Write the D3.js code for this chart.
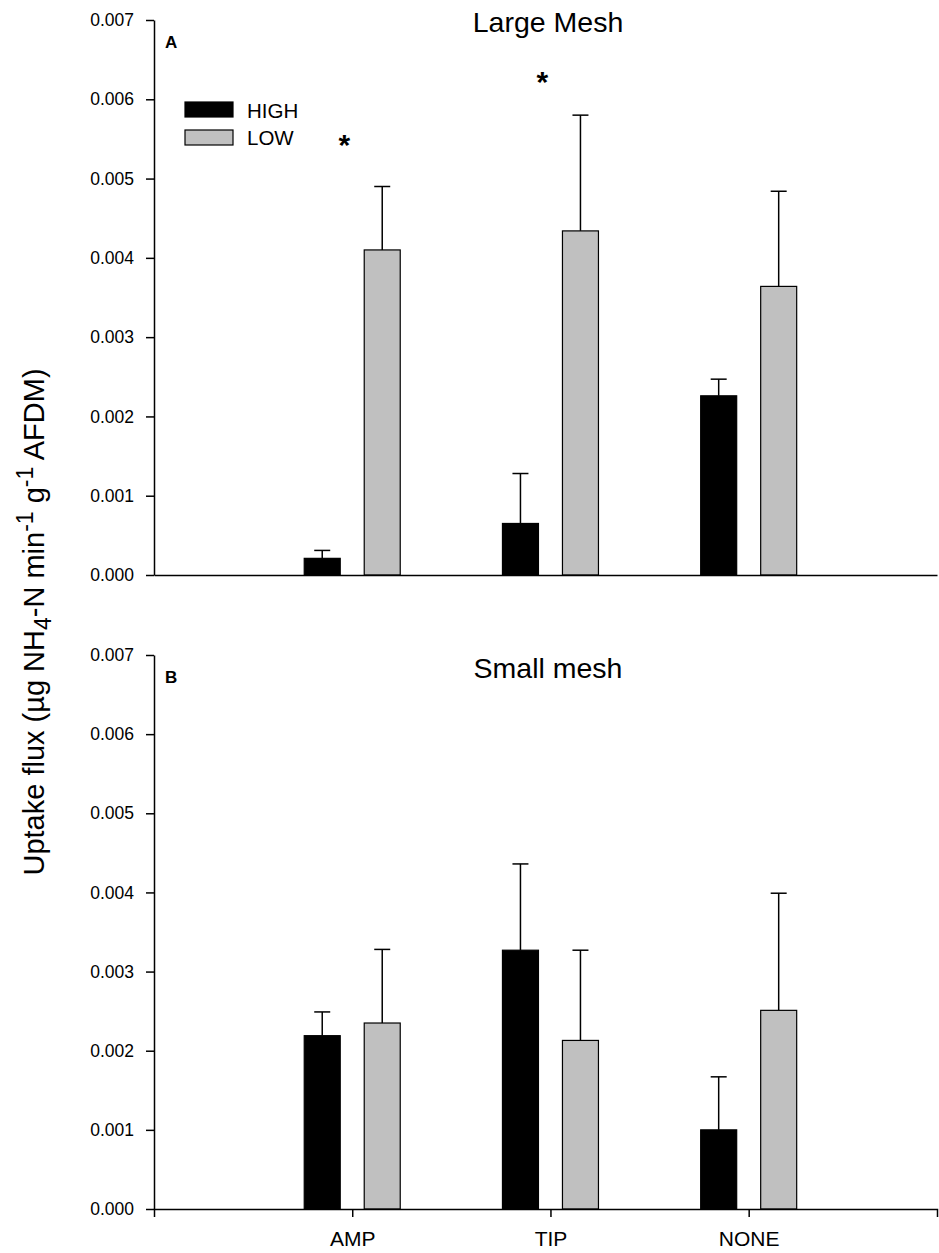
<!DOCTYPE html>
<html>
<head>
<meta charset="utf-8">
<script src="https://cdn.jsdelivr.net/npm/d3@7"></script>
<style>
  body { margin: 0; background: #fff; }
  svg { font-family: "Liberation Sans", Arial, sans-serif; }
  .axis path, .axis line { stroke: #000; stroke-width: 1.5; }
  .axis text { font-size: 17.5px; fill: #000; font-family: "Liberation Sans", Arial, sans-serif; }
  .x-axis text { font-size: 21px; }
</style>
</head>
<body>
<div id="chart-area"></div>
<script>
// Data
let categories = ["AMP", "TIP", "NONE"];
let groups = ["HIGH", "LOW"];
let yTicks = [0, 0.001, 0.002, 0.003, 0.004, 0.005, 0.006, 0.007];

// Large mesh (panel A): means and standard errors
let largeHigh = [0.00021, 0.00065, 0.00226];
let largeHighSE = [0.00010, 0.00063, 0.00021];
let largeLow = [0.00410, 0.00434, 0.00364];
let largeLowSE = [0.00080, 0.00146, 0.00120];

// Small mesh (panel B)
let smallHigh = [0.00219, 0.00327, 0.00100];
let smallHighSE = [0.00030, 0.00109, 0.00067];
let smallLow = [0.00235, 0.00213, 0.00251];
let smallLowSE = [0.00093, 0.00114, 0.00148];

// Significance stars in panel A
let starCats = ["AMP", "TIP"];
let starY = [0.0055, 0.0063];

let fillColors = {HIGH: "#000000", LOW: "#c0c0c0"};

let svg = d3.select("#chart-area").append("svg")
    .attr("width", 939)
    .attr("height", 1253);

// Shared x scale (categories at positions 1..3)
let x = d3.scaleLinear()
    .domain([0, 3.95])
    .range([154, 937]);

let barWidth = 36,
    dodge = 30,
    capHalf = 8;

function makeRows(high, highSE, low, lowSE) {
    let rows = [];
    categories.forEach(function (c, i) {
        rows.push({cat: c, idx: i + 1, group: "HIGH", value: high[i], se: highSE[i]});
        rows.push({cat: c, idx: i + 1, group: "LOW", value: low[i], se: lowSE[i]});
    });
    return rows;
}

function drawPanel(opts) {
    let y = d3.scaleLinear()
        .domain([0, 0.007])
        .range([opts.bottom, opts.top]);

    let g = svg.append("g");

    let rows = makeRows(opts.high, opts.highSE, opts.low, opts.lowSE);

    function cx(d) {
        return x(d.idx) + (d.group === "HIGH" ? -dodge : dodge);
    }

    // Error bars (upper only)
    g.selectAll(".err")
        .data(rows)
        .enter().append("line")
        .attr("x1", cx)
        .attr("x2", cx)
        .attr("y1", d => y(d.value))
        .attr("y2", d => y(d.value + d.se))
        .attr("stroke", "#000")
        .attr("stroke-width", 1.5);

    g.selectAll(".cap")
        .data(rows)
        .enter().append("line")
        .attr("x1", d => cx(d) - capHalf)
        .attr("x2", d => cx(d) + capHalf)
        .attr("y1", d => y(d.value + d.se))
        .attr("y2", d => y(d.value + d.se))
        .attr("stroke", "#000")
        .attr("stroke-width", 1.5);

    // Bars
    g.selectAll(".bar")
        .data(rows)
        .enter().append("rect")
        .attr("x", d => cx(d) - barWidth / 2)
        .attr("width", barWidth)
        .attr("y", d => y(d.value))
        .attr("height", d => y(0) - y(d.value))
        .attr("fill", d => fillColors[d.group])
        .attr("stroke", "#000")
        .attr("stroke-width", 1.2);

    // Axes
    let yAxis = d3.axisLeft(y)
        .tickValues(yTicks)
        .tickFormat(d3.format(".3f"))
        .tickSize(8)
        .tickSizeOuter(0)
        .tickPadding(12);

    g.append("g")
        .attr("class", "axis")
        .attr("transform", "translate(" + x(0) + ",0)")
        .call(yAxis);

    let xAxis = d3.axisBottom(x)
        .tickSizeOuter(0);
    if (opts.xLabels) {
        xAxis.tickValues([1, 2, 3])
            .tickFormat(d => categories[d - 1])
            .tickSize(8)
            .tickPadding(14);
    } else {
        xAxis.tickValues([]);
    }

    g.append("g")
        .attr("class", "axis x-axis")
        .attr("transform", "translate(0," + opts.bottom + ")")
        .call(xAxis);

    // Panel letter and title
    g.append("text")
        .attr("x", 165)
        .attr("y", opts.top + 28)
        .attr("font-size", 17)
        .attr("font-weight", "bold")
        .text(opts.letter);

    g.append("text")
        .attr("x", 548)
        .attr("y", opts.top + opts.titleDy)
        .attr("text-anchor", "middle")
        .attr("font-size", 28.5)
        .text(opts.title);

    return {g: g, y: y};
}

let panelA = drawPanel({
    top: 20, bottom: 575, letter: "A", title: "Large Mesh", titleDy: 12,
    high: largeHigh, highSE: largeHighSE, low: largeLow, lowSE: largeLowSE,
    xLabels: false
});

drawPanel({
    top: 655, bottom: 1209, letter: "B", title: "Small mesh", titleDy: 23,
    high: smallHigh, highSE: smallHighSE, low: smallLow, lowSE: smallLowSE,
    xLabels: true
});

// Stars
panelA.g.selectAll(".star")
    .data(starCats)
    .enter().append("text")
    .attr("x", (d, i) => x(categories.indexOf(d) + 1) - 8)
    .attr("y", (d, i) => panelA.y(starY[i]) + 16)
    .attr("text-anchor", "middle")
    .attr("font-size", 30)
    .attr("font-weight", "bold")
    .text("*");

// Legend
let legend = svg.append("g");
groups.forEach(function (grp, i) {
    legend.append("rect")
        .attr("x", 185)
        .attr("y", 102 + i * 28)
        .attr("width", 48)
        .attr("height", 15)
        .attr("fill", fillColors[grp])
        .attr("stroke", "#000")
        .attr("stroke-width", 1.2);
    legend.append("text")
        .attr("x", 247)
        .attr("y", 118 + i * 27)
        .attr("font-size", 20.5)
        .text(grp);
});

// Y axis title
let yTitle = svg.append("text")
    .attr("transform", "translate(44,622) rotate(-90)")
    .attr("text-anchor", "middle")
    .attr("font-size", 29);

yTitle.append("tspan").text("Uptake flux (\u00b5g NH");
yTitle.append("tspan").attr("dy", 7).attr("font-size", 23).text("4");
yTitle.append("tspan").attr("dy", -7).text("-N min");
yTitle.append("tspan").attr("dy", -11).attr("font-size", 23).text("-1");
yTitle.append("tspan").attr("dy", 11).text(" g");
yTitle.append("tspan").attr("dy", -11).attr("font-size", 23).text("-1");
yTitle.append("tspan").attr("dy", 11).text(" AFDM)");
</script>
</body>
</html>
